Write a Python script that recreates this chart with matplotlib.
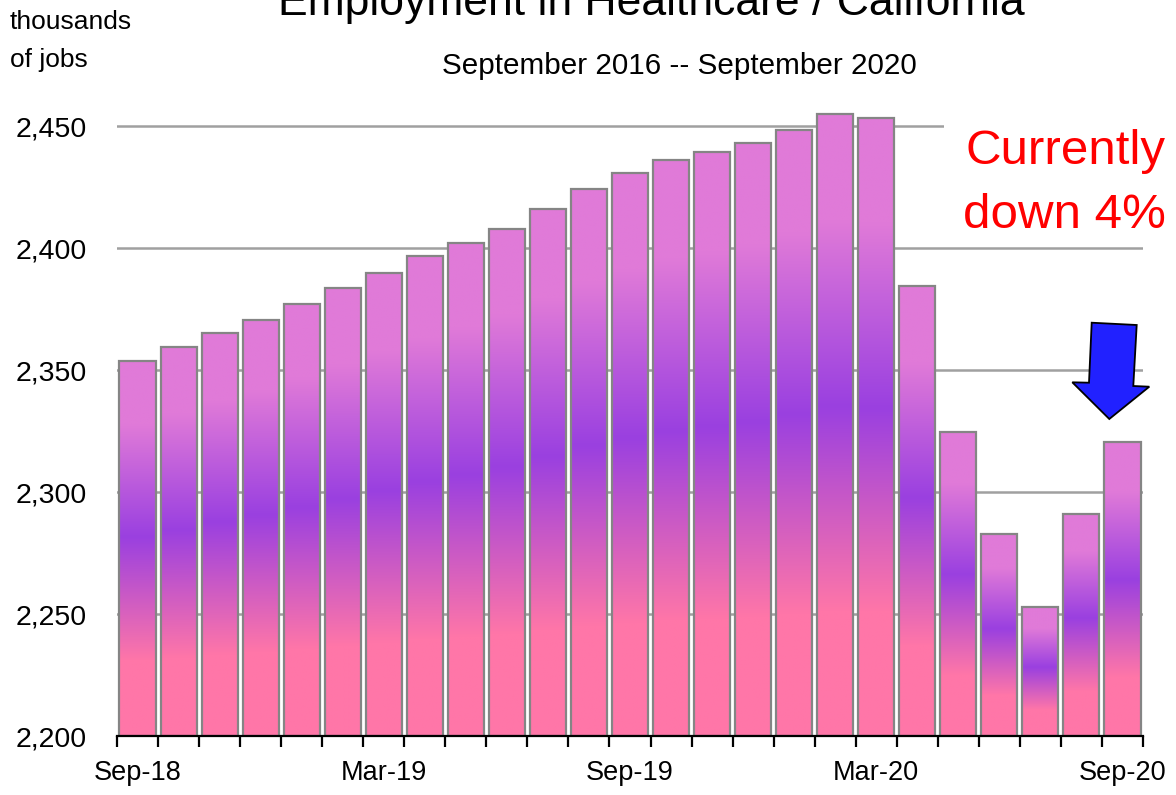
import matplotlib
matplotlib.use("Agg")
import matplotlib.pyplot as plt
import numpy as np
from matplotlib.colors import LinearSegmentedColormap
from matplotlib.patches import Polygon

plt.rcParams['font.family'] = ['Liberation Sans', 'DejaVu Sans']

months = ["Sep-18", "Oct-18", "Nov-18", "Dec-18", "Jan-19", "Feb-19", "Mar-19",
          "Apr-19", "May-19", "Jun-19", "Jul-19", "Aug-19", "Sep-19", "Oct-19",
          "Nov-19", "Dec-19", "Jan-20", "Feb-20", "Mar-20", "Apr-20", "May-20",
          "Jun-20", "Jul-20", "Aug-20", "Sep-20"]
jobs = [2353.7, 2359.4, 2365.2, 2370.5, 2377.0, 2383.6, 2389.8, 2396.7, 2402.0,
        2407.8, 2416.0, 2424.2, 2430.7, 2436.0, 2439.3, 2443.0, 2448.4, 2454.9,
        2453.3, 2384.4, 2324.6, 2282.8, 2252.9, 2291.0, 2320.5]
label_idx = [0, 6, 12, 18, 24]
yticks = [2200, 2250, 2300, 2350, 2400, 2450]

fig = plt.figure(figsize=(11.76, 7.95), dpi=100)
ax = fig.add_axes([117/1176, 1 - 736/795, 1026/1176, (736 - 4)/795])

cmap = LinearSegmentedColormap.from_list(
    "bar", [(0.0, "#ff76a8"), (0.2, "#ff76a8"), (0.53, "#9a40e0"),
            (0.83, "#e07ad8"), (1.0, "#e07ad8")])

ax.set_yticks(yticks)
ax.set_yticklabels([f"{v:,}" for v in yticks])
ax.yaxis.grid(True, color="#a0a0a0", linewidth=1.8, zorder=0)
ax.set_axisbelow(True)

bars = ax.bar(range(len(jobs)), [v - 2200 for v in jobs], bottom=2200, width=0.88,
              facecolor="none", edgecolor="#858585", linewidth=1.6, zorder=3)
grad = np.linspace(0, 1, 256).reshape(-1, 1)
for b in bars:
    x0, y0 = b.get_x(), b.get_y()
    w, h = b.get_width(), b.get_height()
    im = ax.imshow(grad, cmap=cmap, origin="lower", aspect="auto",
                   extent=[x0, x0 + w, y0, y0 + h], zorder=2, interpolation="bilinear")
    im.set_clip_path(b)
ax.set_xlim(-0.5, len(jobs) - 0.5)
ax.set_ylim(2200, 2500)

for s in ["top", "right", "left"]:
    ax.spines[s].set_visible(False)
ax.spines["bottom"].set_linewidth(1.6)
ax.spines["bottom"].set_zorder(5)
ax.tick_params(axis="y", length=0, pad=22, labelsize=20.5)

ax.set_xticks(label_idx)
ax.set_xticklabels([months[i] for i in label_idx])
ax.set_xticks(np.arange(-0.5, len(jobs), 1.0), minor=True)
ax.tick_params(axis="x", which="major", length=0, pad=17, labelsize=19.5)
ax.tick_params(axis="x", which="minor", length=8, width=1.6, color="black")

fig.text(10/1176, 1 - 22/795, "thousands", fontsize=19, va="center", ha="left")
fig.text(10/1176, 1 - 60/795, "of jobs", fontsize=19, va="center", ha="left")
fig.text(651/1176, 1 - 4/795, "Employment in Healthcare / California", fontsize=32,
         va="center", ha="center")
fig.text(679/1176, 1 - 66/795, "September 2016 -- September 2020", fontsize=21.3,
         va="center", ha="center")

ax.text(1166/1176, 1 - 152/795, "Currently", transform=fig.transFigure, color="#ff0000",
        fontsize=35.5, va="center", ha="right", zorder=6,
        bbox=dict(facecolor="white", edgecolor="none", pad=16))
ax.text(1166/1176, 1 - 215/795, "down 4%", transform=fig.transFigure, color="#ff0000",
        fontsize=35.5, va="center", ha="right", zorder=6)

arrow_pts_px = [(1091.7, 322.7), (1136.7, 325.0), (1133.3, 386.0), (1149.3, 386.7),
                (1109.3, 419.0), (1072.3, 382.3), (1089.0, 382.7)]
arrow_pts = [(x / 1176, 1 - y / 795) for x, y in arrow_pts_px]
arrow = Polygon(arrow_pts, closed=True, transform=fig.transFigure, facecolor="#2121ff",
                edgecolor="black", linewidth=1.3, zorder=7)
fig.add_artist(arrow)

fig.savefig("out.png", dpi=100)
